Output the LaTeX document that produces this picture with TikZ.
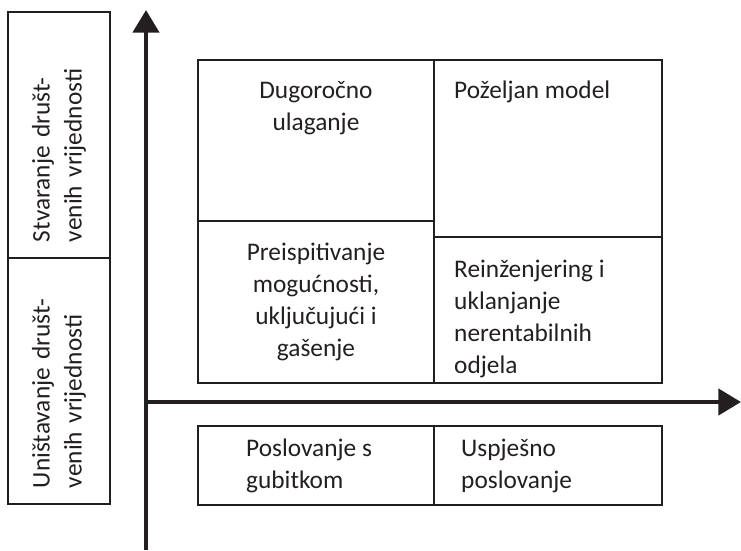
\documentclass[tikz,border=0pt]{standalone}
\usepackage{fontspec}
\setmainfont{Carlito}
\usetikzlibrary{arrows.meta, positioning}
\definecolor{ink}{RGB}{35,31,32}

\begin{document}
\begin{tikzpicture}[x=0.75pt, y=-0.75pt,
  every node/.style={font=\fontsize{19}{24}\selectfont, text=ink},
  cell/.style={draw=ink, line width=1.6pt, inner sep=0pt},
  side/.style={draw=ink, line width=1.6pt, rotate=90, minimum width=184.5pt, minimum height=76.5pt,
    inner xsep=12pt, text width=160.5pt, align=left},
  txt/.style={inner sep=0pt},
  axis/.style={draw=ink, line width=3.4pt, -{Triangle[length=17pt, width=19.5pt]}}]

\useasboundingbox (0,0) rectangle (741,550);

% Side labels (rotated)
\node[side] (stvaranje) at (59,135) {Stvaranje društ-\\venih vrijednosti};
\node[side] (unistavanje) at (59,381) {Uništavanje društ-\\venih vrijednosti};

% Axes
\coordinate (origin) at (146,402);
\coordinate (ytop) at (146,10);
\coordinate (ybot) at (146,550);
\coordinate (xend) at (741,402);
\draw[axis] (ybot) -- (ytop);
\draw[axis] (origin) -- (xend);

% Quadrants above the axis
\node[cell, minimum width=177pt, minimum height=120.75pt] (dugorocno) at (316,140.5) {};
\node[cell, minimum width=171pt, minimum height=132.75pt] (pozeljan) at (548,148.5) {};
\node[cell, minimum width=177pt, minimum height=121.5pt] (preispitivanje) at (316,302) {};
\node[cell, minimum width=171pt, minimum height=109.5pt] (reinzenjering) at (548,310) {};

% Boxes below the axis
\node[cell, minimum width=177pt, minimum height=59.25pt] (gubitak) at (316,465.5) {};
\node[cell, minimum width=171pt, minimum height=59.25pt] (uspjesno) at (548,465.5) {};

% Texts
\node[txt, anchor=north, align=center, below=16.5pt of dugorocno.north] (dugtxt) {Dugoročno\\ulaganje};
\node[txt, anchor=north west, align=left, below right=16.5pt and 15.75pt of pozeljan.north west] (poztxt) {Poželjan model};
\node[txt, align=center] (pretxt) at (preispitivanje.center) {Preispitivanje\\mogućnosti,\\uključujući i\\gašenje};
\node[txt, anchor=north west, align=left, below right=18.25pt and 15.75pt of reinzenjering.north west] (reitxt) {Reinženjering i\\uklanjanje\\nerentabilnih\\odjela};
\node[txt, anchor=west, align=left, right=36.75pt of gubitak.west] (gubtxt) {Poslovanje s\\gubitkom};
\node[txt, anchor=west, align=left, right=21pt of uspjesno.west] (usptxt) {Uspješno\\poslovanje};

\end{tikzpicture}
\end{document}
